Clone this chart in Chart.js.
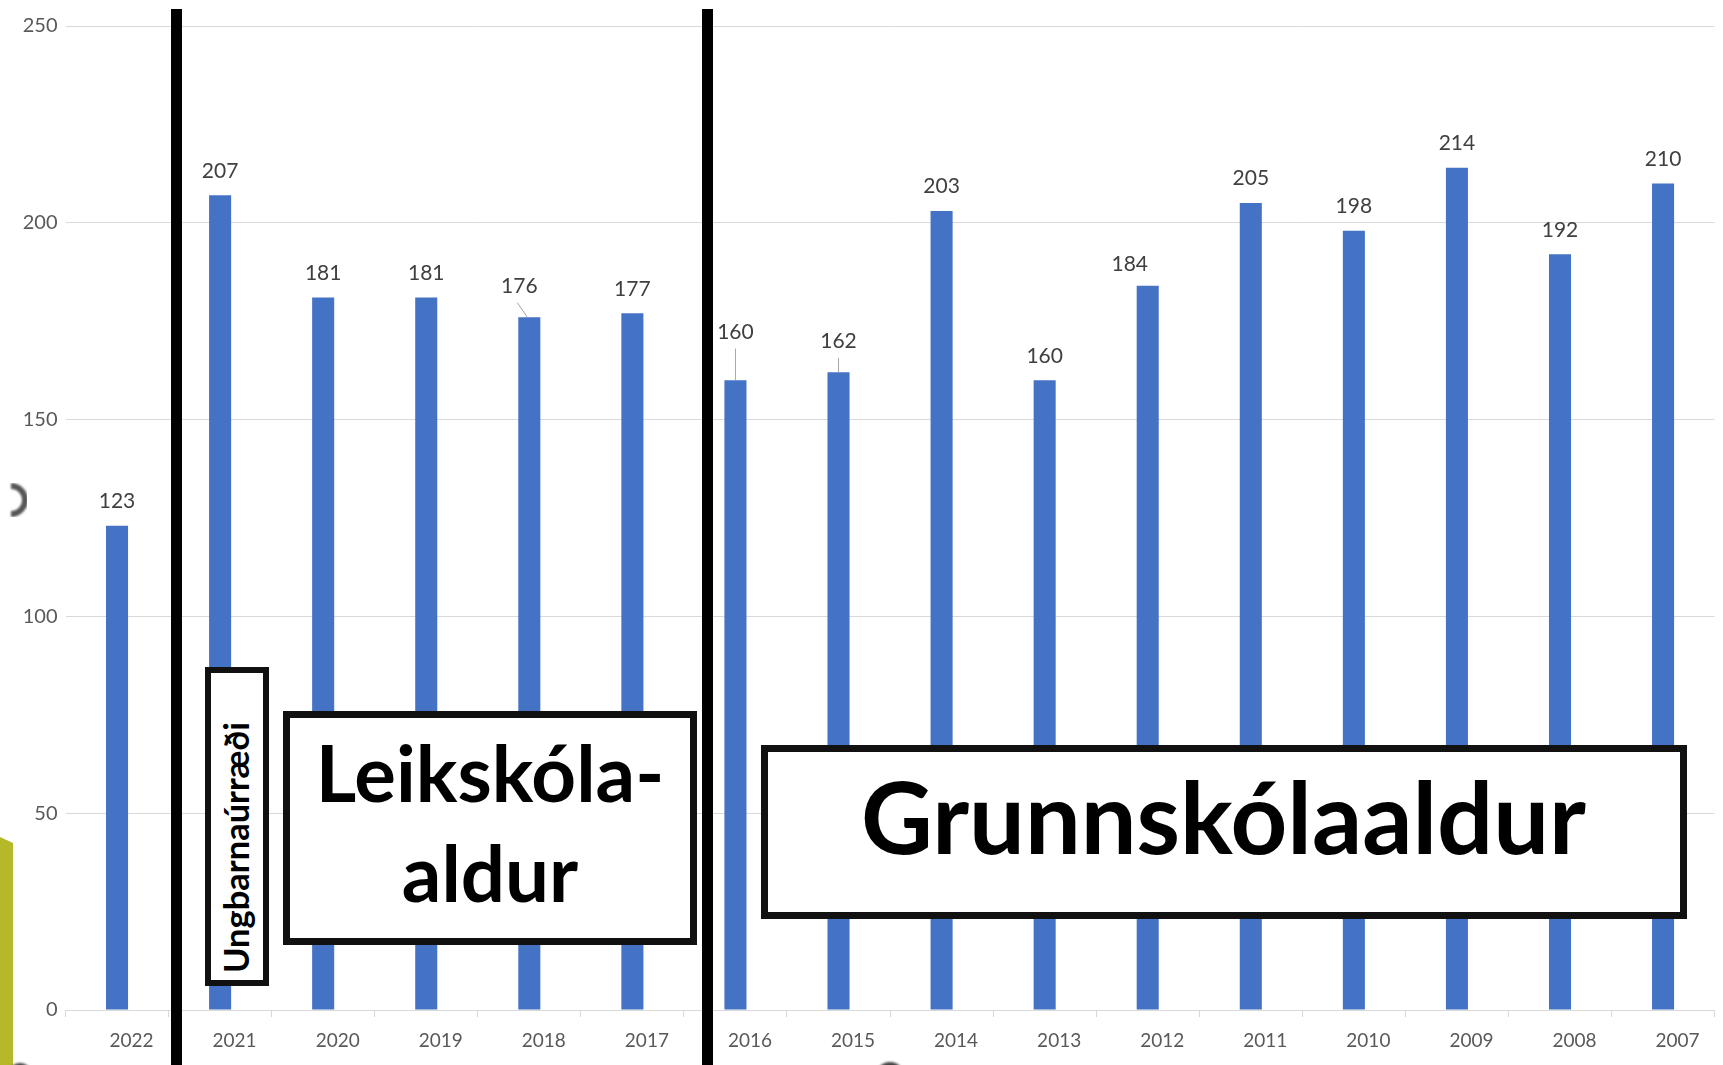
<!DOCTYPE html>
<html>
<head>
<meta charset="utf-8">
<script src="https://cdn.jsdelivr.net/npm/chart.js@4/dist/chart.umd.min.js"></script>
<style>
  html, body { margin: 0; padding: 0; background: #fff; overflow: hidden; }
  #wrap { position: relative; width: 1723px; height: 1065px; overflow: hidden; background: #fff; }
  #c { position: absolute; left: 0; top: 0; }
  .vline { position: absolute; background: #000; }
  .box { position: absolute; box-sizing: border-box; border-style: solid; border-color: #111; background: #fff; }
  .txt { position: absolute; font-family: Lato, "Open Sans", sans-serif; font-weight: 700; color: #000; white-space: nowrap; }
  #deco { position: absolute; left: 0; top: 0; pointer-events: none; }
</style>
</head>
<body>
<div id="wrap">
  <canvas id="c" width="1723" height="1065"></canvas>
  <div class="vline" style="left:171px;top:9px;width:11px;height:1060px"></div>
  <div class="vline" style="left:702px;top:9px;width:11px;height:1060px"></div>

  <div class="box" style="left:205px;top:667px;width:64px;height:319px;border-width:6px"></div>
  <div class="txt" style="left:216px;bottom:92px;font-size:34.5px;line-height:40px;writing-mode:vertical-rl;transform:rotate(180deg)">Ungbarnaúrræði</div>

  <div class="box" style="left:283px;top:711px;width:414px;height:234px;border-width:7px"></div>
  <div class="txt" style="left:283px;top:722px;width:414px;text-align:center;font-size:78px;line-height:100px">Leikskóla-<br>aldur</div>

  <div class="box" style="left:761px;top:745px;width:926px;height:174px;border-width:7px"></div>
  <div class="txt" style="left:761px;top:756px;width:925px;text-align:center;font-size:99px;line-height:119px">Grunnskólaaldur</div>

  <svg id="deco" width="1723" height="1065">
    <defs><filter id="bl"><feGaussianBlur stdDeviation="1.2"/></filter></defs>
    <polygon points="0,837 13,843 13,1065 0,1065" fill="#b5b828"/>
    <path d="M 11 486 A 14 14 0 0 1 11 514" fill="none" stroke="#555" stroke-width="6" filter="url(#bl)"/>
    <circle cx="890" cy="1076" r="14" fill="#444" filter="url(#bl)"/>
    <circle cx="20" cy="1075" r="12" fill="#444" filter="url(#bl)"/>
  </svg>
</div>
<script>
const categories = ['2022','2021','2020','2019','2018','2017','2016','2015','2014','2013','2012','2011','2010','2009','2008','2007'];
const values = [123, 207, 181, 181, 176, 177, 160, 162, 203, 160, 184, 205, 198, 214, 192, 210];
const yTicks = [0, 50, 100, 150, 200, 250];

// label placement tweaks (style only)
const labelAdjust = {
  '2016': { dx: 0, dy: -24, leader: 0 },
  '2015': { dx: 0, dy: -7, leader: 0 },
  '2018': { dx: -10, dy: -7, leader: -2 },
  '2012': { dx: -18, dy: 3 }
};

const dataLabels = {
  id: 'dataLabels',
  afterDatasetsDraw(chart) {
    const ctx = chart.ctx;
    const meta = chart.getDatasetMeta(0);
    ctx.save();
    ctx.font = '21px Lato, "Open Sans", sans-serif';
    ctx.fillStyle = '#404040';
    ctx.textAlign = 'center';
    ctx.textBaseline = 'alphabetic';
    meta.data.forEach((bar, i) => {
      const adj = labelAdjust[categories[i]] || { dx: 0, dy: 0 };
      const x = bar.x + adj.dx;
      const base = bar.y - 17.7 + adj.dy;
      ctx.fillText(String(values[i]), x, base);
      if (adj.leader !== undefined) {
        ctx.strokeStyle = '#a6a6a6';
        ctx.lineWidth = 1;
        ctx.beginPath();
        ctx.moveTo(x + adj.leader, base + 10);
        ctx.lineTo(bar.x + adj.leader, bar.y);
        ctx.stroke();
      }
    });
    ctx.restore();
  }
};

new Chart(document.getElementById('c'), {
  type: 'bar',
  data: {
    labels: categories,
    datasets: [{
      data: values,
      backgroundColor: '#4472C4',
      borderWidth: 0,
      barPercentage: 0.214,
      categoryPercentage: 1
    }]
  },
  options: {
    responsive: false,
    animation: false,
    devicePixelRatio: 1,
    layout: { padding: { top: 26, right: 8.4, left: 0, bottom: 0 } },
    plugins: { legend: { display: false }, tooltip: { enabled: false }, title: { display: false } },
    scales: {
      x: {
        afterFit: s => { s.height = 55; },
        grid: { display: true, drawOnChartArea: false, drawTicks: true, tickLength: 7, color: '#d9d9d9', offset: true },
        border: { display: true, color: '#d9d9d9', width: 1 },
        ticks: {
          color: '#595959',
          font: { family: 'Lato, "Open Sans", sans-serif', size: 19 },
          padding: 12,
          labelOffset: 14.5,
          maxRotation: 0,
          autoSkip: false
        }
      },
      y: {
        min: 0,
        max: 250,
        afterFit: s => { s.width = 65.5; },
        afterBuildTicks: s => { s.ticks = yTicks.map(v => ({ value: v })); },
        grid: { color: '#d9d9d9', lineWidth: 1, drawTicks: false },
        border: { display: false },
        ticks: {
          color: '#595959',
          font: { family: 'Lato, "Open Sans", sans-serif', size: 20 },
          padding: 8
        }
      }
    }
  },
  plugins: [dataLabels]
});
</script>
</body>
</html>
